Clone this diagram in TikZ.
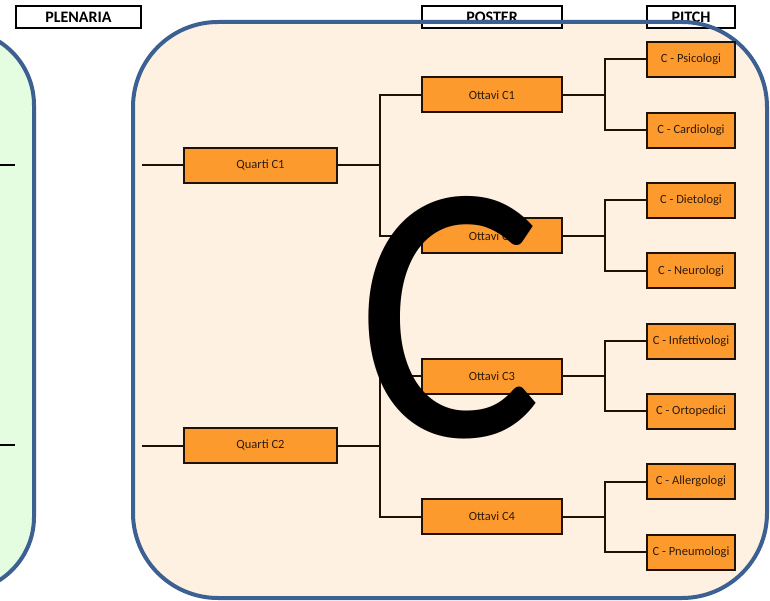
\documentclass[tikz,border=0pt]{standalone}
\usepackage{fontspec}
\setmainfont{Carlito}
\definecolor{panelblue}{HTML}{3D6092}
\definecolor{greenfill}{HTML}{E4FDE0}
\definecolor{peach}{HTML}{FEF1E1}
\definecolor{boxorange}{HTML}{FD9A2E}
\definecolor{boxline}{HTML}{1E1206}
\definecolor{boxtext}{HTML}{2E1C0A}
\tikzset{
  lbl/.style={draw=black, line width=1.6pt, fill=white, minimum height=22pt, inner sep=0pt, font=\fontsize{16}{16}\selectfont\bfseries},
  qbox/.style={draw=boxline, line width=2pt, fill=boxorange, text=boxtext, minimum width=153pt, minimum height=35pt, inner sep=0pt, font=\fontsize{12.5}{12.5}\selectfont},
  obox/.style={qbox, minimum width=140pt},
  pbox/.style={qbox, minimum width=88pt},
  conn/.style={draw=boxline, line width=2pt},
  panel/.style={draw=panelblue, line width=4pt, rounded corners=85pt}
}
\begin{document}
\begin{tikzpicture}[x=1pt,y=-1pt]
\useasboundingbox (0,0) rectangle (770,601);
% panel fills
\fill[greenfill, rounded corners=75pt] (-300,30) rectangle (34,592);
\fill[peach, rounded corners=85pt] (133,22) rectangle (767,598);
% header labels
\node[lbl, minimum width=125pt] (plen) at (78.5,17) {PLENARIA};
\node[lbl, minimum width=140pt] (post) at (492,17) {POSTER};
\node[lbl, minimum width=88pt] (pitch) at (691,17) {PITCH};
% panel borders
\draw[panel, rounded corners=75pt] (-300,30) rectangle (34,592);
\draw[panel] (133,22) rectangle (767,598);
% left panel stubs
\coordinate (gl1) at (0,165); \coordinate (gr1) at (15,165);
\coordinate (gl2) at (0,445); \coordinate (gr2) at (15,445);
\draw[conn, draw=black] (gl1) -- (gr1);
\draw[conn, draw=black] (gl2) -- (gr2);
% quarti
\node[qbox] (q1) at (260.5,165.5) {Quarti C1};
\node[qbox] (q2) at (260.5,445.5) {Quarti C2};
\coordinate (s1) at (142,165.5);
\coordinate (s2) at (142,445.5);
\draw[conn] (s1) -- (q1.west);
\draw[conn] (s2) -- (q2.west);
% ottavi
\node[obox] (o1) at (492,95) {Ottavi C1};
\node[obox] (o2) at (492,236) {Ottavi C2};
\node[obox] (o3) at (492,376) {Ottavi C3};
\node[obox] (o4) at (492,516.5) {Ottavi C4};
\draw[conn] (q1.east) -- (380,165.5) (o1.west) -| (380,165.5) |- (o2.west);
\draw[conn] (q2.east) -- (380,445.5) (o3.west) -| (380,445.5) |- (o4.west);
% pitch
\node[pbox] (p1) at (691,59.5) {C - Psicologi};
\node[pbox] (p2) at (691,130.5) {C - Cardiologi};
\node[pbox] (p3) at (691,200.5) {C - Dietologi};
\node[pbox] (p4) at (691,271) {C - Neurologi};
\node[pbox] (p5) at (691,341) {C - Infettivologi};
\node[pbox] (p6) at (691,411) {C - Ortopedici};
\node[pbox] (p7) at (691,481.5) {C - Allergologi};
\node[pbox] (p8) at (691,552) {C - Pneumologi};
\draw[conn] (o1.east) -- (605,95) (p1.west) -| (605,95) |- (p2.west);
\draw[conn] (o2.east) -- (605,236) (p3.west) -| (605,236) |- (p4.west);
\draw[conn] (o3.east) -- (605,376) (p5.west) -| (605,376) |- (p6.west);
\draw[conn] (o4.east) -- (605,516.5) (p7.west) -| (605,516.5) |- (p8.west);
% big letter
\node[anchor=base, inner sep=0pt, font=\fontsize{370}{370}\selectfont] (bigc) at (450,436) {\scalebox{0.94}[1]{C}};
\end{tikzpicture}
\end{document}
